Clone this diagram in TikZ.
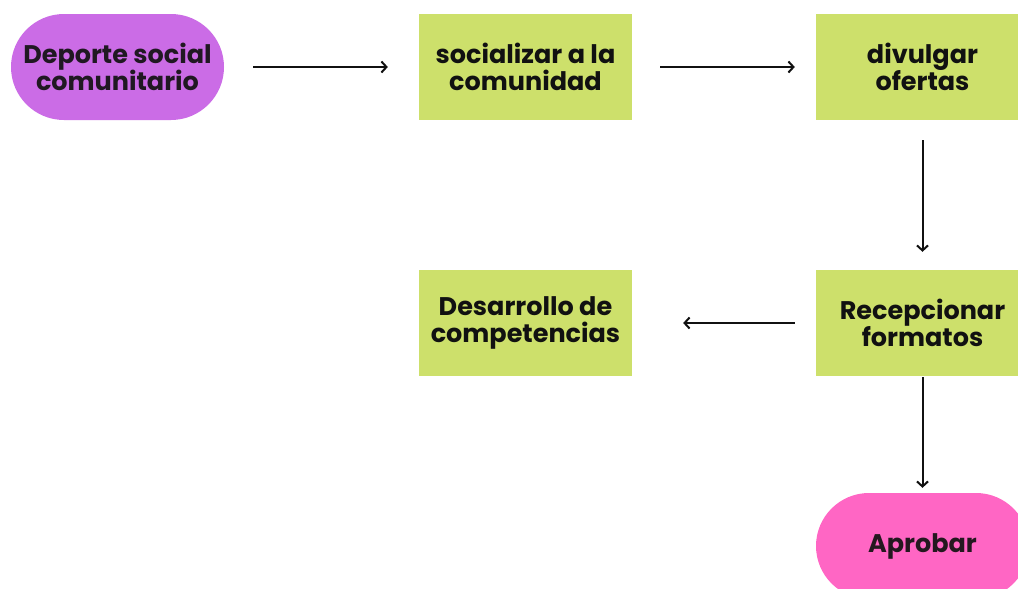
\documentclass[tikz,border=0pt]{standalone}
\usepackage{fontspec}
\setmainfont{Poppins}
\usetikzlibrary{arrows.meta}
\definecolor{lime}{HTML}{CDE06B}
\definecolor{violet}{HTML}{CB6CE6}
\definecolor{rose}{HTML}{FF66C4}
\definecolor{ink}{HTML}{111111}
\tikzset{
  box/.style={draw=none, minimum width=213pt, minimum height=106pt, inner sep=0pt,
    align=center, text=ink, font=\fontsize{25.5}{27.5}\selectfont\bfseries},
  greenbox/.style={box, fill=lime},
  pill/.style={box, rounded corners=53pt},
  arr/.style={draw=ink, line width=2pt, -{Straight Barb[length=5pt,width=11pt,line width=2pt]}}
}
\begin{document}
\begin{tikzpicture}[x=1pt,y=-1pt]
\useasboundingbox (0,0) rectangle (1018,589);
\clip (0,0) rectangle (1018,589);
\fill[white] (0,0) rectangle (1018,589);
\node[pill, fill=violet, text=ink!92!violet] (dep) at (117.5,67) {Deporte social\\comunitario};
\node[greenbox] (soc) at (525.5,67) {socializar a la\\comunidad};
\node[greenbox] (div) at (922.5,67) {divulgar\\ofertas};
\node[greenbox] (rec) at (922.5,323) {Recepcionar\\formatos};
\node[greenbox] (des) at (525.5,323) {Desarrollo de\\competencias};
\node[pill, fill=rose, text=ink!92!rose] (apr) at (922.5,546) {Aprobar};
\draw[arr] ([xshift=29pt]dep.east) -- ([xshift=-31pt]soc.west);
\draw[arr] ([xshift=28pt]soc.east) -- ([xshift=-21pt]div.west);
\draw[arr] ([yshift=-20pt]div.south) -- ([yshift=18pt]rec.north);
\draw[arr] ([xshift=-21pt]rec.west) -- ([xshift=51pt]des.east);
\draw[arr] ([yshift=-1pt]rec.south) -- ([yshift=5pt]apr.north);
\end{tikzpicture}
\end{document}
